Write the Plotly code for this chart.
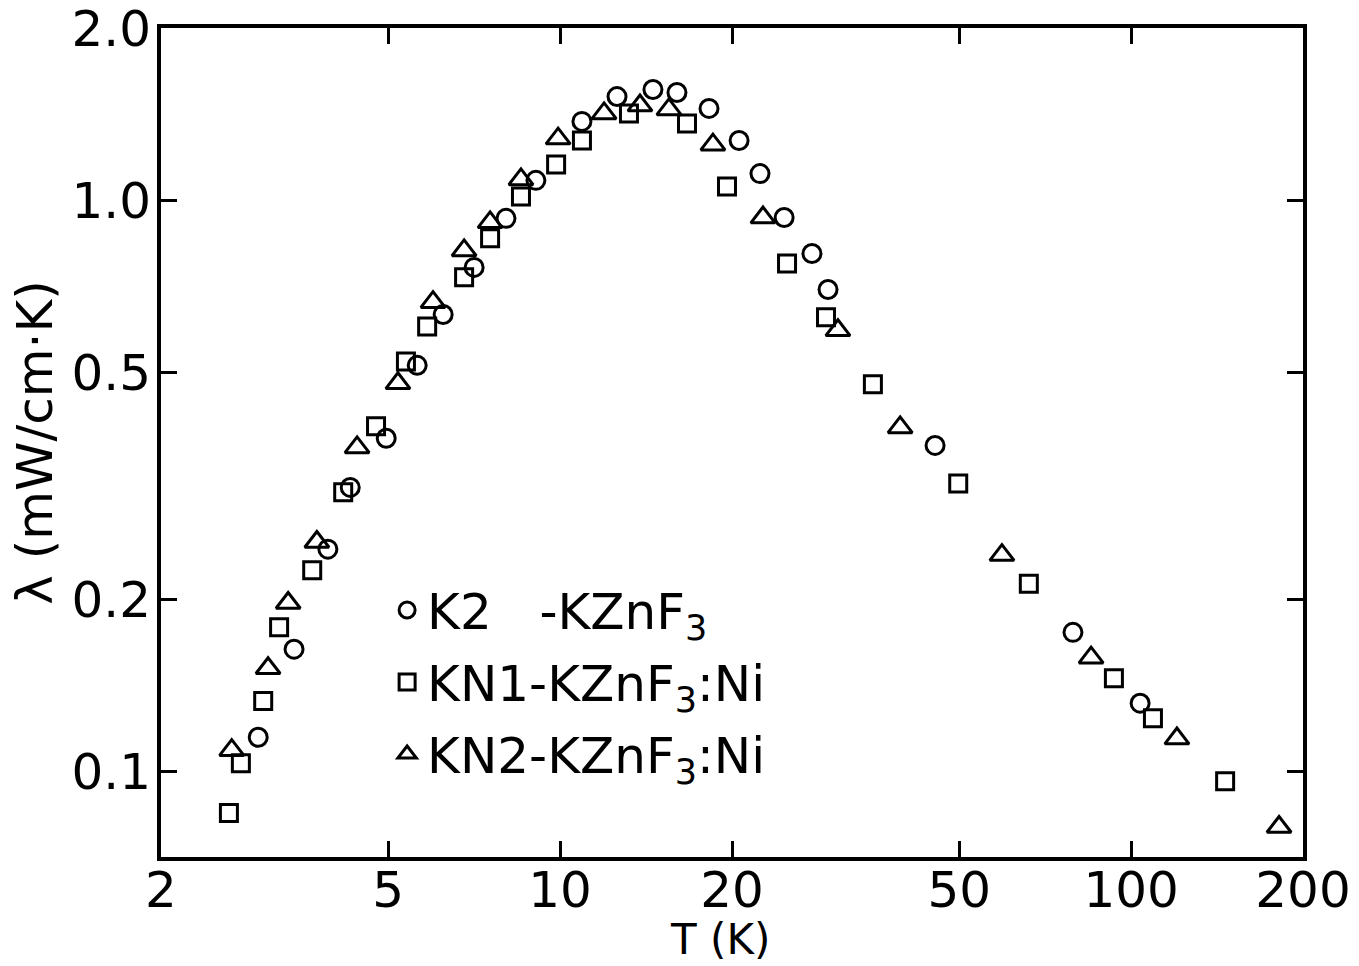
import plotly.graph_objects as go

# K2 - KZnF3 (circles)
k2_T = [2.96, 3.42, 3.92, 4.29, 4.96, 5.62, 6.24, 7.07, 8.04, 9.07, 10.92, 12.58,
        14.54, 16.02, 18.23, 20.58, 22.39, 24.68, 27.61, 29.46, 45.36, 79.1, 103.7]
k2_L = [0.1146, 0.1635, 0.2448, 0.314, 0.383, 0.514, 0.631, 0.763, 0.930, 1.084, 1.375, 1.52,
        1.564, 1.545, 1.449, 1.273, 1.114, 0.933, 0.807, 0.698, 0.372, 0.175, 0.1315]

# KN1 - KZnF3:Ni (squares)
kn1_T = [2.63, 2.76, 3.02, 3.22, 3.68, 4.17, 4.76, 5.37, 5.85, 6.79, 7.54, 8.54, 9.84,
         10.92, 13.2, 16.68, 19.6, 24.97, 29.22, 35.3, 49.8, 66.2, 93.3, 109.2, 146.1]
kn1_L = [0.0844, 0.1032, 0.1326, 0.1787, 0.2248, 0.308, 0.402, 0.522, 0.601, 0.733, 0.858, 1.016, 1.156,
         1.273, 1.42, 1.364, 1.057, 0.775, 0.624, 0.476, 0.319, 0.213, 0.1454, 0.1238, 0.096]

# KN2 - KZnF3:Ni (triangles)
kn2_T = [2.66, 3.08, 3.34, 3.75, 4.41, 5.20, 5.99, 6.79, 7.54, 8.54, 9.92, 11.94, 13.8,
         15.51, 18.52, 22.66, 30.66, 39.4, 59.4, 85.1, 120.3, 181.6]
kn2_L = [0.1088, 0.1514, 0.197, 0.252, 0.369, 0.478, 0.663, 0.817, 0.915, 1.088, 1.283, 1.42, 1.466,
         1.443, 1.252, 0.933, 0.592, 0.400, 0.239, 0.158, 0.114, 0.0798]

x_ticks = [2, 5, 10, 20, 50, 100, 200]
x_ticklabels = ["2", "5", "10", "20", "50", "100", "200"]
y_ticks = [0.1, 0.2, 0.5, 1.0, 2.0]
y_ticklabels = ["0.1", "0.2", "0.5", "1.0", "2.0"]

names = ["K2\u00a0\u00a0\u00a0-KZnF<sub>3</sub>",
         "KN1-KZnF<sub>3</sub>:Ni",
         "KN2-KZnF<sub>3</sub>:Ni"]

FONT = "DejaVu Sans"

fig = go.Figure()
for i, (T, L, sym, nm, sz) in enumerate([(k2_T, k2_L, "circle-open", names[0], 18),
                                         (kn1_T, kn1_L, "square-open", names[1], 17),
                                         (kn2_T, kn2_L, "triangle-up-open", names[2], 21)]):
    fig.add_trace(go.Scatter(
        x=T, y=L, mode="markers", name=nm, legendgroup=f"g{i}",
        marker=dict(symbol=sym, size=sz, color="black", line=dict(width=3, color="black")),
    ))

axis_common = dict(
    type="log", showgrid=False, zeroline=False, automargin=False,
    showline=True, linecolor="black", linewidth=4, mirror="ticks",
    ticks="inside", ticklen=16, tickwidth=3, tickcolor="black",
    tickfont=dict(family=FONT, size=50, color="black"),
)

fig.update_xaxes(**axis_common, range=[0.30103, 2.30103],
                 tickvals=x_ticks, ticktext=x_ticklabels, ticklabelstandoff=-14)
fig.update_yaxes(**axis_common, range=[-1.1506, 0.302],
                 tickvals=y_ticks, ticktext=y_ticklabels, ticklabelstandoff=-4,
                 title=dict(text="λ (mW/cm·K)", font=dict(family=FONT, size=50, color="black"), standoff=4))

fig.add_annotation(text="T (K)", xref="paper", yref="paper",
                   x=0.4895, y=-0.1315, xanchor="center", yanchor="bottom",
                   showarrow=False, font=dict(family=FONT, size=42, color="black"))

fig.update_layout(
    width=1359, height=966,
    margin=dict(l=161, r=56, t=28, b=109),
    plot_bgcolor="white", paper_bgcolor="white",
    showlegend=True,
    legend=dict(x=0.198, y=0.345, xanchor="left", yanchor="top",
                bgcolor="rgba(0,0,0,0)", borderwidth=0,
                font=dict(family=FONT, size=50, color="black"),
                itemsizing="trace", tracegroupgap=4),
    font=dict(family=FONT, color="black"),
)

fig.write_html("out.html", config={"displayModeBar": False},
               post_script="document.body.style.margin='0';")
